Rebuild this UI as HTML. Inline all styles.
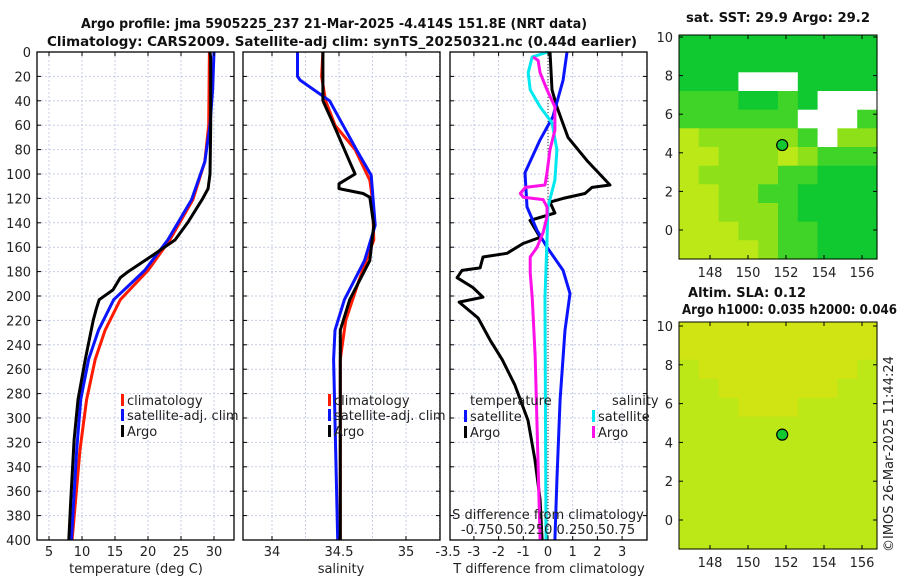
<!DOCTYPE html>
<html><head><meta charset="utf-8">
<style>
body{margin:0;background:#fff;}
svg{display:block;font-family:"DejaVu Sans","Liberation Sans",sans-serif;}
.t{font-size:13px;fill:#222;}
.b{font-weight:bold;font-size:13px;fill:#111;}
</style></head>
<body>
<svg id="c" width="900" height="580" viewBox="0 0 900 580">
<text class="b" x="334" y="28" text-anchor="middle" textLength="506" lengthAdjust="spacingAndGlyphs">Argo profile: jma 5905225_237 21-Mar-2025 -4.414S 151.8E (NRT data)</text>
<text class="b" x="342" y="46" text-anchor="middle" textLength="590" lengthAdjust="spacingAndGlyphs">Climatology: CARS2009. Satellite-adj clim: synTS_20250321.nc (0.44d earlier)</text>
<text class="b" x="778" y="22" text-anchor="middle" textLength="184" lengthAdjust="spacingAndGlyphs">sat. SST: 29.9 Argo: 29.2</text>
<text class="b" x="688" y="297" textLength="118" lengthAdjust="spacingAndGlyphs">Altim. SLA: 0.12</text>
<text class="b" x="682" y="314" textLength="215" lengthAdjust="spacingAndGlyphs">Argo h1000: 0.035 h2000: 0.046</text>
<text class="t" x="0" y="0" transform="translate(893,552) rotate(-90)">©IMOS 26-Mar-2025 11:44:24</text>
</svg>
<script>
// ---------- data ----------
const depthTicks=[0,20,40,60,80,100,120,140,160,180,200,220,240,260,280,300,320,340,360,380,400];
const tempTicks=[5,10,15,20,25,30];
const salTicks=[34,34.5,35];
const dT_Ticks=[-3,-2,-1,0,1,2,3];
// temperature profiles (depth m, temp degC)
const argoTempDepth=[0,5,60,100,112,121,140,154,166,180,185,195,203,210,220,252,285,318,367,400];
const argoTemp=[29.4,29.5,29.5,29.4,29.1,28.2,26.0,24.1,20.9,17.0,15.8,14.7,12.6,12.2,11.7,10.5,9.4,8.8,8.3,8.0];
const climTempDepth=[0,60,90,121,154,179,203,228,252,285,326,400];
const climTemp=[29.3,29.2,28.6,26.8,23.3,20.0,15.8,13.5,12.0,10.7,9.7,8.5];
const satTempDepth=[0,30,60,90,121,154,179,203,228,252,285,326,400];
const satTemp=[30.0,29.8,29.4,28.6,26.6,23.0,19.5,14.8,12.5,11.0,9.8,9.2,8.4];
// salinity profiles
const argoSalDepth=[0,40,57,90,100,108,112,116,119,142,171,203,228,400];
const argoSal=[34.38,34.38,34.45,34.58,34.62,34.5,34.5,34.68,34.73,34.76,34.73,34.58,34.51,34.51];
const climSalDepth=[0,20,40,60,80,105,121,154,187,220,252,400];
const climSal=[34.38,34.37,34.4,34.47,34.62,34.73,34.75,34.76,34.65,34.55,34.51,34.51];
const satSalDepth=[0,20,23,40,80,101,142,171,203,228,252,400];
const satSal=[34.19,34.19,34.21,34.43,34.63,34.74,34.77,34.69,34.54,34.47,34.46,34.49];
// differences
const argoDTDepth=[0,31,45,70,89,109,111,116,120,123,132,138,152,157,165,168,177,179,185,193,201,205,218,236,252,273,302,334,367,400];
const argoDT=[0.08,0.16,0.36,0.81,1.58,2.51,1.78,1.5,0.61,0.08,0.28,-0.73,-0.32,-1.01,-1.66,-2.63,-2.75,-3.48,-3.68,-3.04,-2.63,-3.6,-2.83,-2.35,-1.86,-1.34,-0.81,-0.53,-0.32,-0.24];
const satDTDepth=[0,23,53,72,99,127,146,160,179,198,228,285,351,400];
const satDT=[0.77,0.61,0.2,-0.32,-0.93,-0.85,-0.45,-0.04,0.61,0.89,0.69,0.49,0.36,0.28];
const satDSDepth=[0,4,17,31,45,58,80,105,127,154,201,400];
const satDS=[0,-0.16,-0.2,-0.18,-0.08,0.04,0.09,0.07,0,-0.01,-0.03,-0.02];
const argoDSDepth=[4,7,17,31,45,64,80,99,109,111,116,119,121,127,135,148,160,168,181,201,250,400];
const argoDS=[-0.15,-0.1,-0.08,-0.01,0.07,0.07,0.02,-0.01,-0.03,-0.23,-0.28,-0.25,-0.05,-0.01,-0.01,-0.05,-0.11,-0.18,-0.18,-0.16,-0.13,-0.08];
// map grids (0 deep green,1 green,2 lime,3 yellow-green,4 yellowish,9 no data)
const sstGrid=[
"0000000000","0000000000","0009990000","1110010999","1111119991",
"3222221922","3322232111","3222211000","3322110000","3322210000","3332211000","3333211000"];
const slaGrid=[
"4444444444","4444444444","3444444443","3344444433","3334443333",
"3333333333","3333333333","3333333333","3333333333","3333333333","3333333333","3333333333"];
const mapColors={"0":"#10c830","1":"#40d428","2":"#8ee018","3":"#bce818","4":"#d0e414","9":"#ffffff"};
const floatLon=[151.8], floatLat=[4.4];

// ---------- helpers ----------
const S=document.getElementById('c'),NS='http://www.w3.org/2000/svg';
function mk(tag,attrs){const e=document.createElementNS(NS,tag);for(const k in attrs)e.setAttribute(k,attrs[k]);S.appendChild(e);return e;}
const TOP=52,BOT=540;
const yD=d=>TOP+d*(BOT-TOP)/400;
const xT=t=>49+(t-5)*6.6;
const xS=s=>272+(s-34)*134;
const xdT=t=>548+t*24.7;
const xdS=s=>548+s*98.8;
const panels=[[37,234],[243,440],[450,647]];

// grids
const vgrid=[tempTicks.map(xT),[33.75,34,34.25,34.5,34.75,35,35.25].map(xS),[-4,-3,-2,-1,0,1,2,3,4].map(xdT)];
panels.forEach((p,i)=>{
  depthTicks.forEach(d=>{const l=mk('line',{x1:p[0],x2:p[1],y1:yD(d),y2:yD(d),stroke:'#c6cde6','stroke-width':1,'stroke-dasharray':'2,2'});
    
    });
  vgrid[i].forEach(x=>{if(x>p[0]&&x<p[1]){const l=mk('line',{x1:x,x2:x,y1:TOP,y2:BOT,stroke:'#c6cde6','stroke-width':1,'stroke-dasharray':'2,2'});
    
    }});
});
const zl=mk('line',{x1:xdT(0),x2:xdT(0),y1:TOP,y2:BOT,stroke:'#333','stroke-width':1,'stroke-dasharray':'1,2'});



function line(ds,vs,xf,col,name,w){
  const pts=ds.map((d,i)=>xf(vs[i]).toFixed(1)+','+yD(d).toFixed(1)).join(' ');
  const e=mk('polyline',{points:pts,fill:'none',stroke:col,'stroke-width':w||3,'stroke-linejoin':'round'});
  
  
}
line(climTempDepth,climTemp,xT,'#ff1a00','climatology-temp-line');
line(satTempDepth,satTemp,xT,'#0a14ff','satellite-temp-line');
line(argoTempDepth,argoTemp,xT,'#000','argo-temp-line');
line(climSalDepth,climSal,xS,'#ff1a00','climatology-salinity-line');
line(satSalDepth,satSal,xS,'#0a14ff','satellite-salinity-line');
line(argoSalDepth,argoSal,xS,'#000','argo-salinity-line');
line(argoDTDepth,argoDT,xdT,'#000','argo-temp-diff-line');
line(satDTDepth,satDT,xdT,'#0a14ff','satellite-temp-diff-line');
line(satDSDepth,satDS,xdS,'#00e8f0','satellite-salinity-diff-line');
line(argoDSDepth,argoDS,xdS,'#ff10e8','argo-salinity-diff-line');

// frames & ticks
panels.forEach((p,i)=>{
  const r=mk('rect',{x:p[0],y:TOP,width:p[1]-p[0],height:BOT-TOP,fill:'none',stroke:'#000','stroke-width':1.3});
  
  
  depthTicks.forEach(d=>{
    mk('line',{x1:p[0],x2:p[0]+4,y1:yD(d),y2:yD(d),stroke:'#000'});
    mk('line',{x1:p[1]-4,x2:p[1],y1:yD(d),y2:yD(d),stroke:'#000'});
  });
});
depthTicks.forEach(d=>{const t=mk('text',{x:31,y:yD(d)+5,'text-anchor':'end',class:'t'});t.textContent=d;
  
  });
function xticks(vals,f,p,fmt){vals.forEach(v=>{const x=f(v);
  mk('line',{x1:x,x2:x,y1:BOT-4,y2:BOT,stroke:'#000'});mk('line',{x1:x,x2:x,y1:TOP,y2:TOP+4,stroke:'#000'});
  const t=mk('text',{x:x,y:556,'text-anchor':'middle',class:'t'});t.textContent=fmt?fmt(v):v;
  
  });}
xticks(tempTicks,xT);
xticks(salTicks,xS);
xticks(dT_Ticks,xdT);
const t35=mk('text',{x:448,y:556,'text-anchor':'middle',class:'t'});t35.textContent='-3.5';


function label(x,y,s,name,anchor){const t=mk('text',{x:x,y:y,'text-anchor':anchor||'start',class:'t'});t.textContent=s;
  
  return t;}
label(136,573,'temperature (deg C)','temp-axis-title','middle');
label(341,573,'salinity','salinity-axis-title','middle');
label(549,573,'T difference from climatology','temp-diff-axis-title','middle');
label(548,519,'S difference from climatology','salinity-diff-axis-title','middle');
label(548,534,'-0.750.50.250 0.250.50.75','salinity-diff-tick-labels','middle');

// legends
function leg(x,y,col,s){const r=mk('rect',{x:x,y:y-11,width:3,height:12,fill:col});
  
  
  label(x+6,y,s,'legend-entry');}
[[121,'climatology'],[328,'climatology']].forEach(a=>leg(a[0],405,'#ff1a00',a[1]));
[121,328].forEach(x=>{leg(x,420,'#0a14ff','satellite-adj. clim');leg(x,436,'#000','Argo');});
label(470,405,'temperature','legend-title-temperature');
label(612,405,'salinity','legend-title-salinity');
leg(464,421,'#0a14ff','satellite');leg(464,437,'#000','Argo');
leg(592,421,'#00e8f0','satellite');leg(592,437,'#ff10e8','Argo');

// maps
function map(grid,x0,x1,y0,y1,lat10y,lat0y,name){
  const rows=grid.length,cols=grid[0].length,cw=(x1-x0)/cols,ch=(y1-y0)/rows;
  grid.forEach((row,ri)=>{for(let ci=0;ci<cols;ci++){
    const c=mk('rect',{x:(x0+ci*cw).toFixed(1),y:(y0+ri*ch).toFixed(1),width:(cw+0.6).toFixed(1),height:(ch+0.6).toFixed(1),fill:mapColors[row[ci]]});
    
    }});
  const fr=mk('rect',{x:x0,y:y0,width:x1-x0,height:y1-y0,fill:'none',stroke:'#000','stroke-width':1});
  
  
  const lx=lon=>710+(lon-148)*19, ly=lat=>lat10y+(10-lat)*(lat0y-lat10y)/10;
  [148,150,152,154,156].forEach(l=>{const x=lx(l);mk('line',{x1:x,x2:x,y1:y1-4,y2:y1,stroke:'#000'});mk('line',{x1:x,x2:x,y1:y0,y2:y0+4,stroke:'#000'});
    const t=mk('text',{x:x,y:y1+18,'text-anchor':'middle',class:'t'});t.textContent=l;
    
    });
  [10,8,6,4,2,0].forEach(l=>{const y=ly(l);mk('line',{x1:x0,x2:x0+4,y1:y,y2:y,stroke:'#000'});mk('line',{x1:x1-4,x2:x1,y1:y,y2:y,stroke:'#000'});
    const t=mk('text',{x:x0-6,y:y+5,'text-anchor':'end',class:'t'});t.textContent=l;
    
    });
  const c=mk('circle',{cx:lx(floatLon[0]),cy:ly(floatLat[0]),r:5.5,fill:'#10c830',stroke:'#000','stroke-width':1.2});
  
  
}
map(sstGrid,679,877,35,259,37,230,'sst-map');
map(slaGrid,679,877,322,549,326,520,'sla-map');
</script>
</body></html>
